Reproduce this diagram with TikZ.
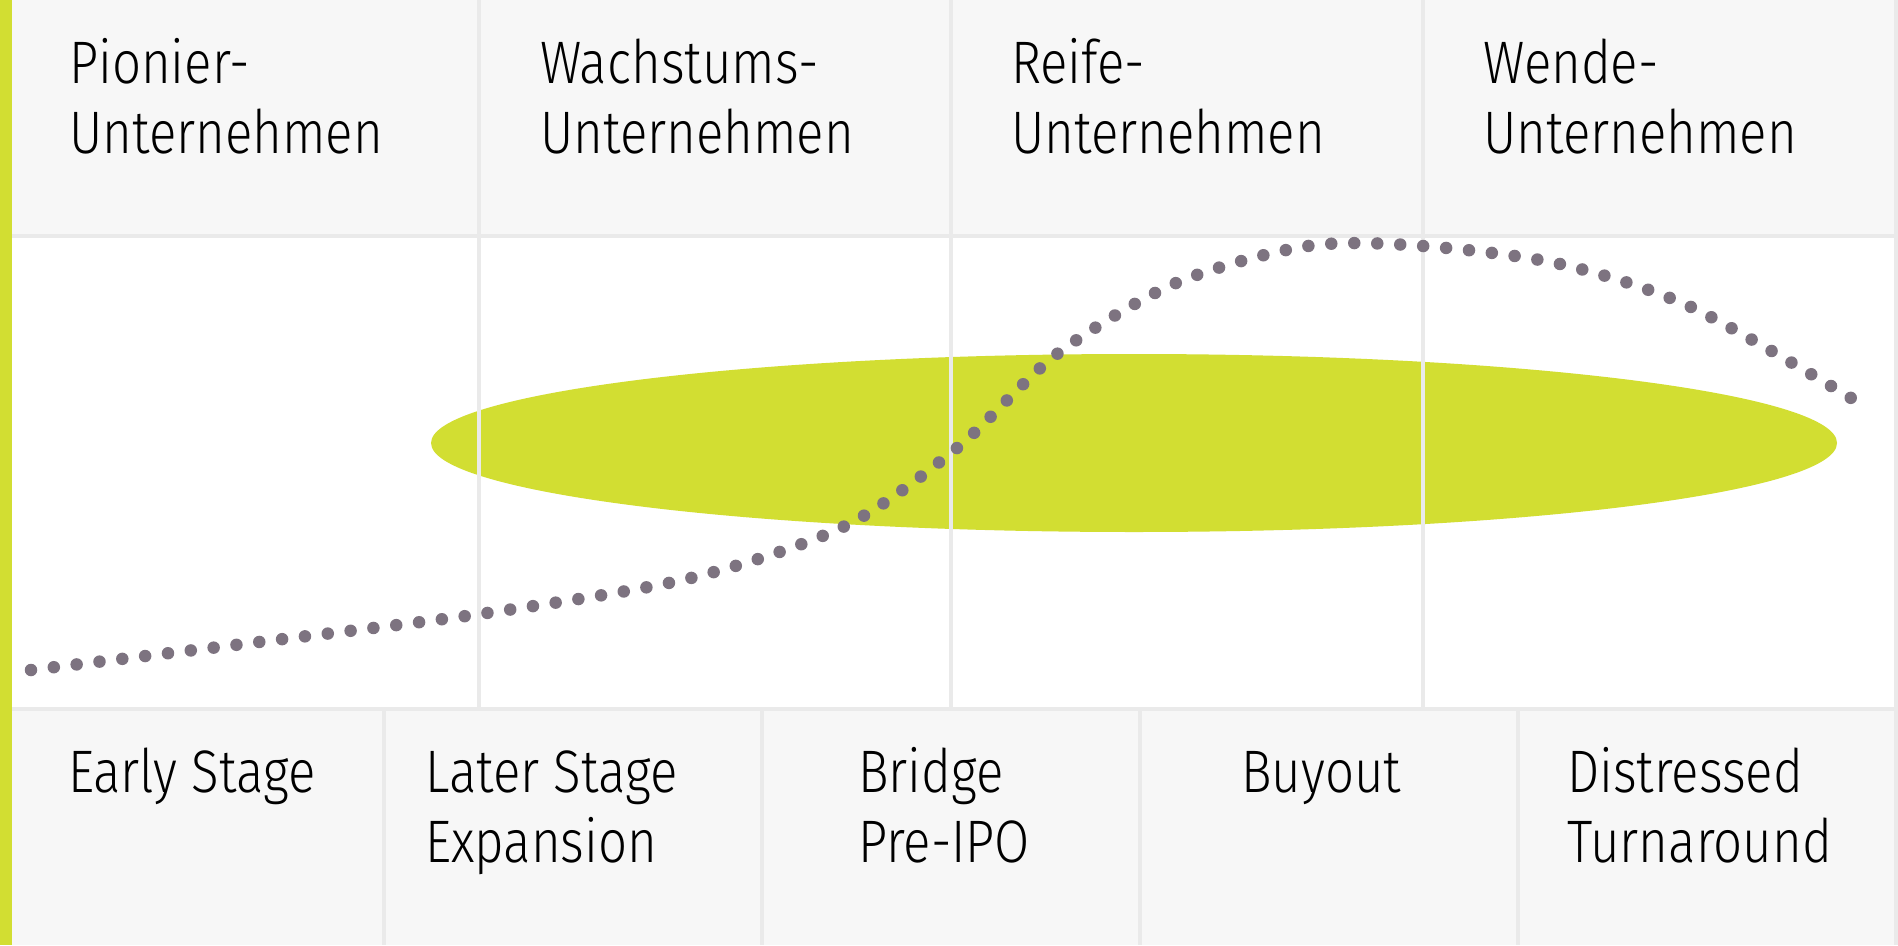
\documentclass[tikz,border=0pt]{standalone}
\usepackage{fontspec}
\setmainfont{Fira Sans Light}[FakeStretch=0.85]
\usepackage{tikz}
\usepackage{xcolor}
\definecolor{stagegreen}{RGB}{210,222,50}
\definecolor{curvegray}{RGB}{125,115,128}
\definecolor{bandgray}{RGB}{247,247,247}
\definecolor{gridgray}{RGB}{234,234,234}

\begin{document}
\begin{tikzpicture}[x=1pt, y=-1pt,
    label/.style={anchor=base west, align=left, inner sep=0pt, font=\fontsize{60}{70}\selectfont},
    grid/.style={gridgray, line width=4pt}]
    \useasboundingbox (0,0) rectangle (1898,945);
    \fill[white] (0,0) rectangle (1898,945);
    \fill[bandgray] (0,0) rectangle (1898,235);
    \fill[bandgray] (0,708) rectangle (1898,945);

    % the phase where the investors come in
    \fill[stagegreen] (1134,443) ellipse [x radius=703, y radius=89];

    \draw[grid] (0,235.5) -- (1898,235.5);
    \draw[grid] (0,708.5) -- (1898,708.5);
    \foreach \x in {479,951,1423}
        \draw[grid] (\x,0) -- (\x,708);
    \foreach \x in {384,762,1140,1518}
        \draw[grid] (\x,708) -- (\x,945);
    \draw[grid] (1896,0) -- (1896,945);

    \draw[curvegray, line width=12.5pt, line cap=round, dash pattern=on 0pt off 23pt]
        plot[smooth] coordinates {(31,670) (259,642) (487,613) (691,578) (845,526) (957,448)
        (1057,354) (1176,283) (1308,246) (1423,246) (1560,264) (1691,307) (1851,398)};

    \fill[stagegreen] (0,0) rectangle (12,945);

    % base of a node = baseline of its last line
    \node[label] (pionier) at (69,153) {Pionier-\\Unternehmen};
    \node[label] (wachstum) at (540,153) {Wachstums-\\Unternehmen};
    \node[label] (reife) at (1011,153) {Reife-\\Unternehmen};
    \node[label] (wende) at (1483,153) {Wende-\\Unternehmen};

    \node[label] (early) at (68,792) {Early Stage};
    \node[label] (later) at (425,862) {Later Stage\\Expansion};
    \node[label] (bridge) at (858,862) {Bridge\\Pre-IPO};
    \node[label] (buyout) at (1241,792) {Buyout};
    \node[label] (distressed) at (1567,862) {Distressed\\Turnaround};
\end{tikzpicture}
\end{document}
